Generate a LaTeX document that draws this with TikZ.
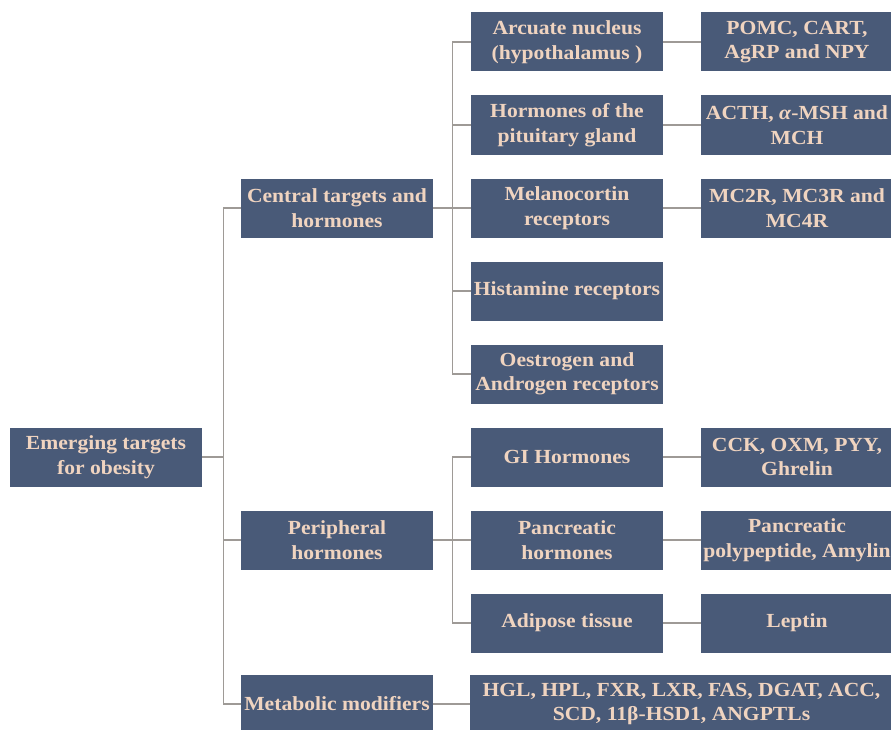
\documentclass[tikz,border=0pt]{standalone}
\usepackage{fontspec}
\setmainfont{Liberation Serif}[FakeStretch=1.08]
\usetikzlibrary{positioning}

\definecolor{boxblue}{RGB}{73,90,120}
\definecolor{boxtext}{RGB}{240,212,192}
\definecolor{linegray}{RGB}{158,154,150}

\tikzset{
  target/.style={fill=boxblue, text=boxtext, minimum width=192pt, minimum height=59pt,
    inner xsep=2pt, inner ysep=2pt, align=center,
    font=\fontsize{20}{24.5}\selectfont\bfseries},
  widetarget/.style={target, minimum width=423pt},
  link/.style={draw=linegray, line width=1.3pt}
}

\begin{document}
\begin{tikzpicture}[x=1pt,y=1pt,node distance=83pt and 230pt,on grid]
  \useasboundingbox (-106,-272) rectangle (785,457);
  \node[target] (root) {Emerging targets\\for obesity};
  \node[target] (cen) [above right=249pt and 231pt of root] {Central targets and\\hormones};
  \node[target] (per) [below right=83pt and 231pt of root] {Peripheral\\hormones};
  \node[target] (met) [below right=247pt and 231pt of root] {Metabolic modifiers};

  \node[target] (mel) [right=of cen] {Melanocortin\\receptors};
  \node[target] (pit) [above=of mel] {Hormones of the\\pituitary gland};
  \node[target] (arc) [above=of pit] {Arcuate nucleus\\(hypothalamus )};
  \node[target] (his) [below=of mel] {Histamine receptors};
  \node[target] (oes) [below=of his] {Oestrogen and\\Androgen receptors};
  \node[target] (gi)  [below=of oes] {GI Hormones};
  \node[target] (pan) [below=of gi]  {Pancreatic\\hormones};
  \node[target] (adi) [below=of pan] {Adipose tissue};

  \node[target] (pomc) [right=of arc] {POMC, CART,\\AgRP and NPY};
  \node[target] (acth) [right=of pit] {ACTH, \textit{α}-MSH and\\MCH};
  \node[target] (mcr)  [right=of mel] {MC2R, MC3R and\\MC4R};
  \node[target] (cck)  [right=of gi]  {CCK, OXM, PYY,\\Ghrelin};
  \node[target] (pp)   [right=of pan] {Pancreatic\\polypeptide, Amylin};
  \node[target] (lep)  [right=of adi] {Leptin};
  \node[widetarget] (hgl) [right=344.5pt of met] {HGL, HPL, FXR, LXR, FAS, DGAT, ACC,\\SCD, 11β-HSD1, ANGPTLs};

  % root to the three groups
  \draw[link] (root.east) -- ++(21pt,0) |- (cen.west);
  \draw[link] (root.east) -- ++(21pt,0) |- (per.west);
  \draw[link] (root.east) -- ++(21pt,0) |- (met.west);

  % central group
  \foreach \n in {arc,pit,mel,his,oes}
    \draw[link] (cen.east) -- ++(19pt,0) |- (\n.west);

  % peripheral group
  \foreach \n in {gi,pan,adi}
    \draw[link] (per.east) -- ++(19pt,0) |- (\n.west);

  \draw[link] (met.east) -- (hgl.west);

  % third column
  \draw[link] (arc) -- (pomc);
  \draw[link] (pit) -- (acth);
  \draw[link] (mel) -- (mcr);
  \draw[link] (gi) -- (cck);
  \draw[link] (pan) -- (pp);
  \draw[link] (adi) -- (lep);
\end{tikzpicture}
\end{document}
